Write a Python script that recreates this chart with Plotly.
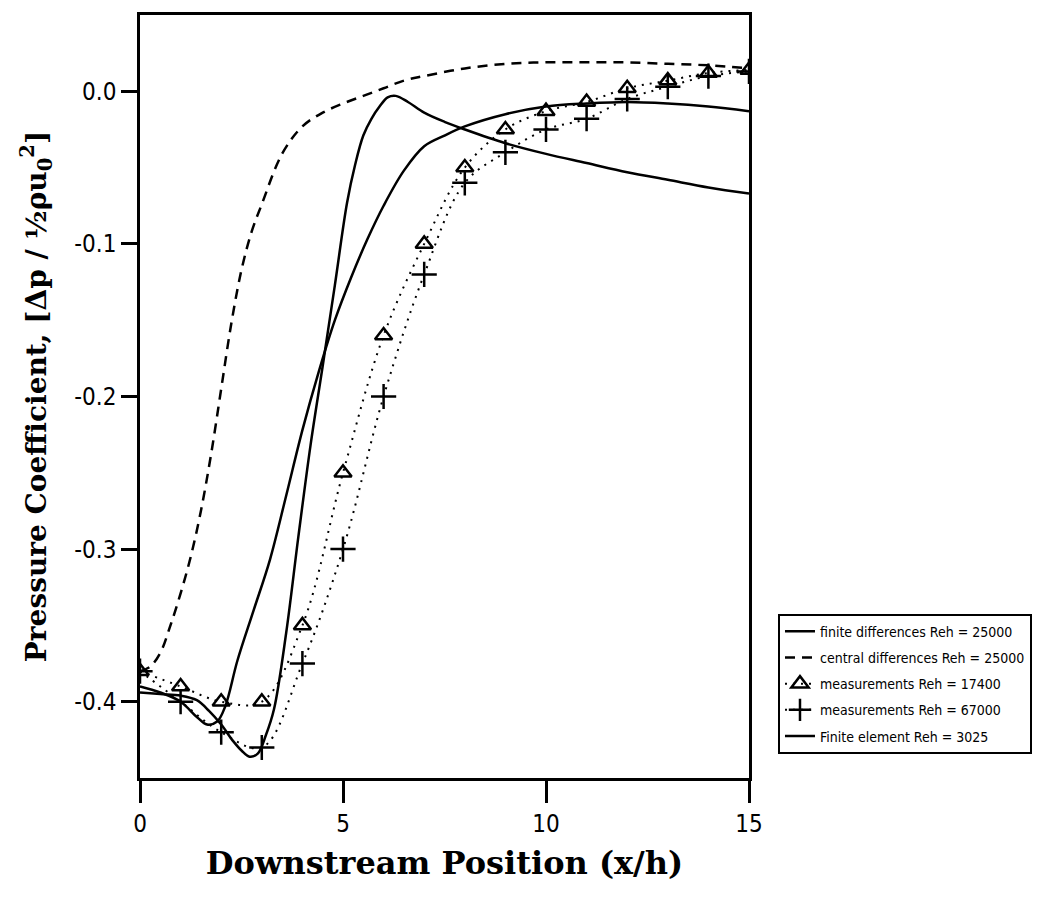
import plotly.graph_objects as go

# ---- data ----
x_fd = [0, 0.5, 1.0, 1.4, 1.7, 2.0, 2.3, 2.5, 2.7, 2.9, 3.1, 3.3, 3.6, 3.9, 4.2, 4.5, 4.8, 5.1, 5.3,
        5.5, 5.7, 5.9, 6.1, 6.3, 6.6, 7.0, 7.5, 8.0, 9.0, 10, 11, 12, 13, 14, 15]
y_fd = [-0.394, -0.395, -0.396, -0.399, -0.406, -0.415, -0.426, -0.432, -0.436, -0.434, -0.422, -0.405,
        -0.355, -0.292, -0.232, -0.180, -0.127, -0.073, -0.048, -0.029, -0.018, -0.010, -0.004, -0.003,
        -0.007, -0.014, -0.020, -0.025, -0.034, -0.041, -0.047, -0.053, -0.058, -0.063, -0.067]

x_fe = [0, 0.5, 1.0, 1.4, 1.65, 1.9, 2.1, 2.4, 2.8, 3.2, 3.6, 4.0, 4.4, 4.8, 5.2, 5.6, 6.0, 6.5, 7.0,
        7.5, 8, 9, 10, 11, 12, 13, 14, 15]
y_fe = [-0.390, -0.394, -0.400, -0.410, -0.415, -0.413, -0.403, -0.373, -0.340, -0.307, -0.265, -0.222,
        -0.184, -0.150, -0.122, -0.097, -0.075, -0.052, -0.036, -0.029, -0.023, -0.015, -0.010, -0.008,
        -0.007, -0.008, -0.010, -0.013]

x_cd = [0, 0.25, 0.5, 0.75, 1.0, 1.25, 1.5, 1.75, 2.0, 2.25, 2.5, 2.75, 3.0, 3.5, 4.0, 4.5, 5, 5.5, 6,
        6.5, 7, 8, 9, 10, 11, 12, 13, 14, 15]
y_cd = [-0.380, -0.377, -0.368, -0.350, -0.329, -0.305, -0.275, -0.238, -0.195, -0.152, -0.117, -0.092,
        -0.074, -0.041, -0.023, -0.014, -0.008, -0.003, 0.002, 0.007, 0.010, 0.015, 0.018, 0.019, 0.019,
        0.019, 0.018, 0.017, 0.015]

x_meas = [0, 1, 2, 3, 4, 5, 6, 7, 8, 9, 10, 11, 12, 13, 14, 15]
y_m17400 = [-0.38, -0.39, -0.40, -0.40, -0.35, -0.25, -0.16, -0.10, -0.05, -0.025, -0.013, -0.007,
            0.002, 0.007, 0.012, 0.014]
y_m67000 = [-0.38, -0.40, -0.42, -0.43, -0.375, -0.30, -0.20, -0.12, -0.06, -0.04, -0.025, -0.018,
            -0.005, 0.003, 0.010, 0.013]

names = ["finite differences Reh = 25000", "central differences Reh = 25000",
         "measurements Reh = 17400", "measurements Reh = 67000", "Finite element Reh = 3025"]

x_ticks = [0, 5, 10, 15]
x_ticklabels = ["0", "5", "10", "15"]
y_ticks = [0.0, -0.1, -0.2, -0.3, -0.4]
y_ticklabels = ["0.0", "-0.1", "-0.2", "-0.3", "-0.4"]

# ---- figure ----
fig = go.Figure()
fig.add_trace(go.Scatter(x=x_fd, y=y_fd, mode="lines", name=names[0], legendgroup="g0",
                         line=dict(color="black", width=2.5, shape="spline")))
fig.add_trace(go.Scatter(x=x_cd, y=y_cd, mode="lines", name=names[1], legendgroup="g1",
                         line=dict(color="black", width=2.5, dash="10px,7px", shape="spline")))
fig.add_trace(go.Scatter(x=x_meas, y=y_m17400, mode="lines+markers", name=names[2], legendgroup="g2",
                         line=dict(color="black", width=2, dash="2px,6px", shape="spline"),
                         marker=dict(symbol="triangle-up-open", size=15, color="black",
                                     line=dict(color="black", width=2.5))))
fig.add_trace(go.Scatter(x=x_meas, y=y_m67000, mode="lines+markers", name=names[3], legendgroup="g3",
                         line=dict(color="black", width=2, dash="2px,6px", shape="spline"),
                         marker=dict(symbol="cross-thin-open", size=18, color="black",
                                     line=dict(color="black", width=2.5))))
fig.add_trace(go.Scatter(x=x_fe, y=y_fe, mode="lines", name=names[4], legendgroup="g4",
                         line=dict(color="black", width=2.5, shape="spline")))

tick_font = dict(family="Liberation Sans Narrow, DejaVu Sans Condensed, Liberation Sans, sans-serif",
                 size=24, color="black")
title_font = dict(family="DejaVu Serif, Liberation Serif, serif", size=28, color="black")

fig.update_layout(
    width=1060, height=902,
    margin=dict(l=140, r=311, t=12, b=124),
    paper_bgcolor="white", plot_bgcolor="white",
    showlegend=True,
    legend=dict(x=1.0476, y=0.2154, xanchor="left", yanchor="top",
                bgcolor="white", bordercolor="black", borderwidth=2,
                font=dict(family="Liberation Sans Narrow, DejaVu Sans Condensed, Liberation Sans, sans-serif",
                          size=14, color="black"),
                itemwidth=30, tracegroupgap=5, traceorder="grouped"),
    xaxis=dict(range=[0, 15], tickvals=x_ticks, ticktext=x_ticklabels,
               showgrid=False, zeroline=False, showline=True, linecolor="black", linewidth=2.5,
               mirror=True, ticks="outside", ticklen=22, tickwidth=2.5, tickcolor="black",
               tickfont=tick_font,
               title=dict(text="<b>Downstream Position (x/h)</b>",
                          font=dict(family="DejaVu Serif, Liberation Serif, serif", size=32, color="black"),
                          standoff=16)),
    yaxis=dict(range=[-0.45, 0.05], tickvals=y_ticks, ticktext=y_ticklabels,
               showgrid=False, zeroline=False, showline=True, linecolor="black", linewidth=2.5,
               mirror=True, ticks="outside", ticklen=16, tickwidth=2.5, tickcolor="black",
               tickfont=tick_font,
               title=dict(text="<b>Pressure Coefficient, [Δp / ½ρu<sub>0</sub><sup>2</sup>]</b>",
                          font=title_font, standoff=20)),
)

fig.write_html("out.html")
